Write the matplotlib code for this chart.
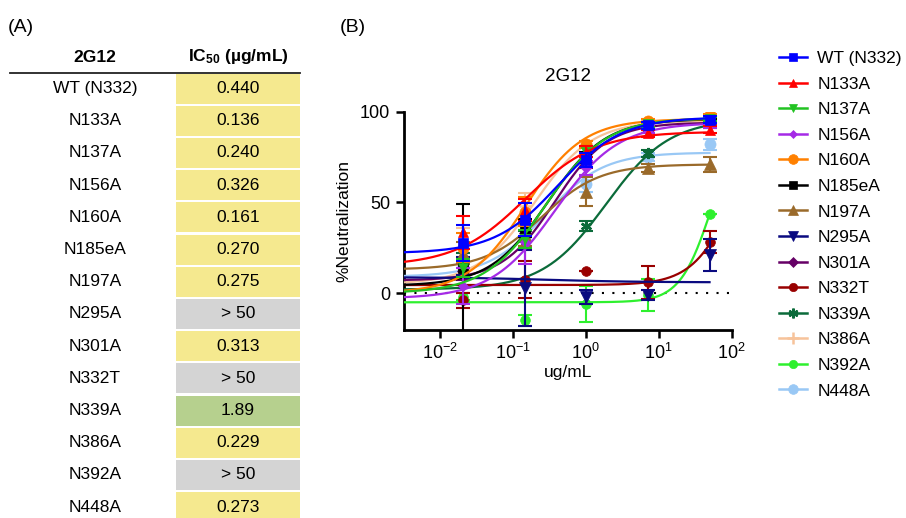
import numpy as np
import matplotlib
matplotlib.use("Agg")
import matplotlib.pyplot as plt
from matplotlib.lines import Line2D
from matplotlib.patches import Rectangle

plt.rcParams['font.family'] = ['Liberation Sans', 'DejaVu Sans']
plt.rcParams['mathtext.fontset'] = 'custom'
plt.rcParams['mathtext.rm'] = 'Liberation Sans'
plt.rcParams['mathtext.bf'] = 'Liberation Sans:bold'
plt.rcParams['mathtext.default'] = 'regular'

# ---------------- data ----------------
variants = ["WT (N332)", "N133A", "N137A", "N156A", "N160A", "N185eA", "N197A",
            "N295A", "N301A", "N332T", "N339A", "N386A", "N392A", "N448A"]
ic50_text = ["0.440", "0.136", "0.240", "0.326", "0.161", "0.270", "0.275",
             "> 50", "0.313", "> 50", "1.89", "0.229", "> 50", "0.273"]
ic50_class = ["y", "y", "y", "y", "y", "y", "y", "g", "y", "g", "G", "y", "g", "y"]

conc = [50 / 7**4, 50 / 7**3, 50 / 7**2, 50 / 7, 50]

neut_WT     = [27.5, 40.5, 73.5, 92.5, 95.5]
neut_N133A  = [33.5, 46.0, 78.0, 88.0, 90.0]
neut_N137A  = [14.0, 30.0, 78.0, 93.0, 96.0]
neut_N156A  = [4.0, 28.0, 69.0, 90.0, 93.0]
neut_N160A  = [25.0, 45.0, 82.0, 95.0, 98.0]
neut_N185eA = [14.0, 36.0, 75.0, 93.0, 95.0]
neut_N197A  = [22.0, 32.0, 56.0, 69.0, 71.0]
neut_N295A  = [15.0, 3.0, -2.0, -1.0, 21.0]
neut_N301A  = [12.0, 33.0, 72.0, 90.0, 93.0]
neut_N332T  = [-4.0, 7.5, 12.0, 6.0, 28.0]
neut_N339A  = [18.0, 30.0, 37.0, 77.0, 93.0]
neut_N386A  = [14.0, 48.0, 78.0, 93.0, 95.0]
neut_N392A  = [-2.0, -15.0, -6.0, -1.0, 43.5]
neut_N448A  = [15.0, 30.0, 60.0, 75.0, 82.0]

err_WT     = [10, 9, 4, 2, 2]
err_N133A  = [9, 6, 3, 2, 2]
err_N137A  = [5, 5, 3, 1.5, 1]
err_N156A  = [10, 12, 4, 2, 2]
err_N160A  = [8, 8, 2, 1, 1]
err_N185eA = [35, 5, 3, 1, 1]
err_N197A  = [6, 6, 8, 2, 4]
err_N295A  = [5, 21, 4, 3, 9]
err_N301A  = [5, 5, 3, 2, 2]
err_N332T  = [4, 10, 0, 9, 6]
err_N339A  = [4, 4, 3, 2, 1]
err_N386A  = [22, 7, 3, 2, 2]
err_N392A  = [2, 3, 10, 9, 0]
err_N448A  = [5, 5, 4, 2, 3]

# 4-parameter logistic fit parameters: bottom, top, EC50, Hill slope
fit_bottom = [22, 15, 0, -3, 0, 4, 13, 8.8, 7, 4.5, 2, 5, -5, 9]
fit_top    = [97, 89, 96.5, 94, 96, 96, 71, 6, 94, 100, 96, 95, 100, 77.5]
fit_ec50   = [0.42, 0.15, 0.28, 0.38, 0.15, 0.3, 0.25, 0.3, 0.38, 110, 1.9, 0.2, 54, 0.28]
fit_hill   = [1.0, 0.9, 1.05, 1.0, 1.1, 1.1, 1.1, 0.7, 1.2, 1.5, 1.0, 1.1, 2.0, 1.1]

neut = [neut_WT, neut_N133A, neut_N137A, neut_N156A, neut_N160A, neut_N185eA, neut_N197A,
        neut_N295A, neut_N301A, neut_N332T, neut_N339A, neut_N386A, neut_N392A, neut_N448A]
errs = [err_WT, err_N133A, err_N137A, err_N156A, err_N160A, err_N185eA, err_N197A,
        err_N295A, err_N301A, err_N332T, err_N339A, err_N386A, err_N392A, err_N448A]

colors = ["#0000FF", "#FF0000", "#22C322", "#A52AE6", "#FF8000", "#000000", "#9A6A2A",
          "#0A0A80", "#660066", "#990000", "#0B6B3A", "#F7C39A", "#2EF02E", "#99C8F5"]
markers = ["s", "^", "v", "D", "o", "s", "^", "v", "D", "o", (6, 2, 0), "+", "o", "o"]
msizes = [7, 7, 7, 5, 8, 7, 8, 8, 6, 7, 8, 9, 7, 8]

cell_colors = {"y": "#F5E98F", "g": "#D4D4D4", "G": "#B6D08E"}


def edge_w(mk):
    return 1.8 if mk in ("+", (6, 2, 0)) else 0.5


# ---------------- figure ----------------
W, H = 906, 518
fig = plt.figure(figsize=(W / 100, H / 100), dpi=100)

ov = fig.add_axes([0, 0, 1, 1])
ov.set_xlim(0, W)
ov.set_ylim(H, 0)
ov.axis("off")

ov.text(8, 28, "(A)", fontsize=14, ha="left", va="center")
ov.text(340, 28, "(B)", fontsize=14, ha="left", va="center")

ov.text(95, 57, "2G12", fontsize=12.5, fontweight="bold", ha="center", va="center")
ov.text(238, 57, r"IC$_{\mathbf{50}}$ (µg/mL)", fontsize=12.5, fontweight="bold",
        ha="center", va="center")
ov.plot([10, 300], [73, 73], color="#222222", lw=1.3)

row0, rowh = 88.5, 32.2
for i, (v, t, c) in enumerate(zip(variants, ic50_text, ic50_class)):
    yc = row0 + rowh * i
    ov.add_patch(Rectangle((176, yc - 15), 124, 30, facecolor=cell_colors[c],
                           edgecolor="none"))
    ov.text(95, yc, v, fontsize=12.5, ha="center", va="center")
    ov.text(238, yc, t, fontsize=12.5, ha="center", va="center")

# ---------------- plot (B) ----------------
ax = fig.add_axes([404 / W, 1 - 329.5 / H, (731.5 - 404) / W, (329.5 - 111.7) / H])
ax.set_xscale("log")
ax.set_xlim(10 ** -2.49, 100)
ax.set_ylim(-20, 100)

xs = np.logspace(-2.49, np.log10(50), 300)
n = len(variants)
for i in range(n):
    z = 3 + (n - i) * 0.1
    b, t, e, h = fit_bottom[i], fit_top[i], fit_ec50[i], fit_hill[i]
    curve = b + (t - b) / (1 + (e / xs) ** h)
    ax.plot(xs, curve, color=colors[i], lw=1.6, zorder=z)
    ax.errorbar(conc, neut[i], yerr=errs[i], fmt="none", ecolor=colors[i],
                elinewidth=1.5, capsize=5, capthick=1.5, zorder=z + 0.02)
    mk = markers[i]
    ax.plot(conc, neut[i], linestyle="none", marker=mk, color=colors[i],
            markersize=msizes[i], markeredgewidth=edge_w(mk), zorder=z + 0.05)

ax.axhline(0, color="black", lw=1.5, linestyle=(0, (1, 4)), zorder=2)

for s in ("top", "right"):
    ax.spines[s].set_visible(False)
for s in ("left", "bottom"):
    ax.spines[s].set_linewidth(2)
ax.set_yticks([0, 50, 100])
ax.set_xticks([1e-2, 1e-1, 1, 10, 100])
ax.xaxis.set_minor_locator(matplotlib.ticker.NullLocator())
ax.tick_params(axis="both", which="major", length=6, width=1.8, labelsize=13, pad=4)
ax.set_ylabel("%Neutralization", fontsize=12.5, labelpad=6)
ax.set_xlabel("ug/mL", fontsize=12.5, labelpad=1)
ax.set_title("2G12", fontsize=13.5, pad=22)

# legend
handles = []
for i in range(n):
    mk = markers[i]
    handles.append(Line2D([0], [0], color=colors[i], lw=1.8, marker=mk,
                          markersize=msizes[i] - 1, markeredgewidth=edge_w(mk)))
fig.legend(handles, variants, loc="upper left", bbox_to_anchor=(779 / W, 1 - 51 / H),
           frameon=False, fontsize=12.5, handlelength=1.6, handletextpad=0.6,
           labelspacing=0.6, borderaxespad=0, borderpad=0)

fig.savefig("out.png", dpi=100)
